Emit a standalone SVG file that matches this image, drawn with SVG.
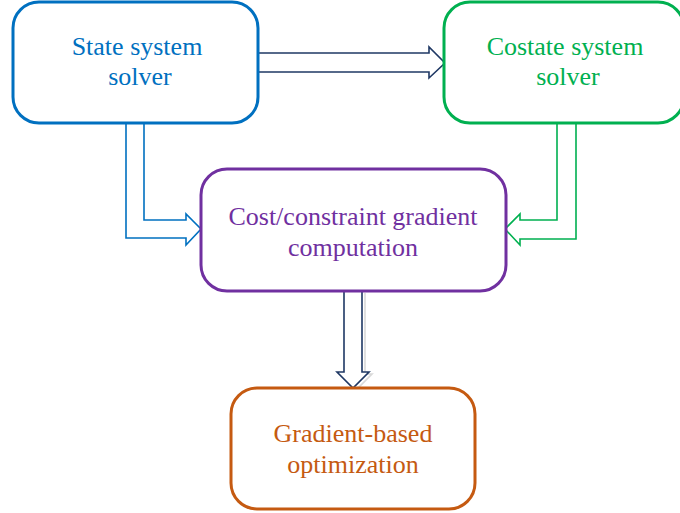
<svg xmlns="http://www.w3.org/2000/svg" width="680" height="513" viewBox="0 0 680 513">
  <style>
    .box { fill: #FFFFFF; stroke-width: 3; }
    .lbl { font-family: "Liberation Serif", "Times New Roman", serif; font-size: 26px; text-anchor: middle; }
    .flow { fill: #FFFFFF; stroke-width: 1.6; stroke-linejoin: miter; }
  </style>
  <rect width="680" height="513" fill="#FFFFFF"/>

  <g id="connectors">
    <!-- state -> costate -->
    <path class="flow" stroke="#1F3864" d="M257,53 H429 V47 L445,63 L429,78 V72 H257"/>
    <!-- state -> gradient -->
    <path class="flow" stroke="#0070C0" d="M126,123 V238 H186 V245 L201,229 L186,214 V220 H144 V123"/>
    <!-- costate -> gradient -->
    <path class="flow" stroke="#00B050" d="M576,123 V239 H520 V245 L505,229 L520,214 V220 H557 V123"/>
    <!-- gradient -> optimization (with soft shadow) -->
    <path fill="none" stroke="#D9D9D9" stroke-width="1.6" d="M347,293 V374 H340 L356,390 L372,374 H365 V293"/>
    <path class="flow" stroke="#1F3864" d="M344,291 V372 H337 L353,388 L369,372 H362 V291"/>
  </g>

  <g id="state-solver">
    <rect class="box" stroke="#0070C0" x="13" y="2" width="245" height="121" rx="26"/>
    <text class="lbl" fill="#0070C0" x="137" y="55">State system</text>
    <text class="lbl" fill="#0070C0" x="140" y="85">solver</text>
  </g>

  <g id="costate-solver">
    <rect class="box" stroke="#00B050" x="444" y="2" width="240" height="121" rx="26"/>
    <text class="lbl" fill="#00B050" x="565" y="55">Costate system</text>
    <text class="lbl" fill="#00B050" x="568" y="85">solver</text>
  </g>

  <g id="gradient-computation">
    <rect class="box" stroke="#7030A0" x="201" y="169" width="305" height="122" rx="26"/>
    <text class="lbl" fill="#7030A0" x="353" y="225">Cost/constraint gradient</text>
    <text class="lbl" fill="#7030A0" x="353" y="256">computation</text>
  </g>

  <g id="optimization">
    <rect class="box" stroke="#C55A11" x="231" y="388" width="244" height="121" rx="26"/>
    <text class="lbl" fill="#C55A11" x="353" y="442">Gradient-based</text>
    <text class="lbl" fill="#C55A11" x="353" y="473">optimization</text>
  </g>
</svg>
